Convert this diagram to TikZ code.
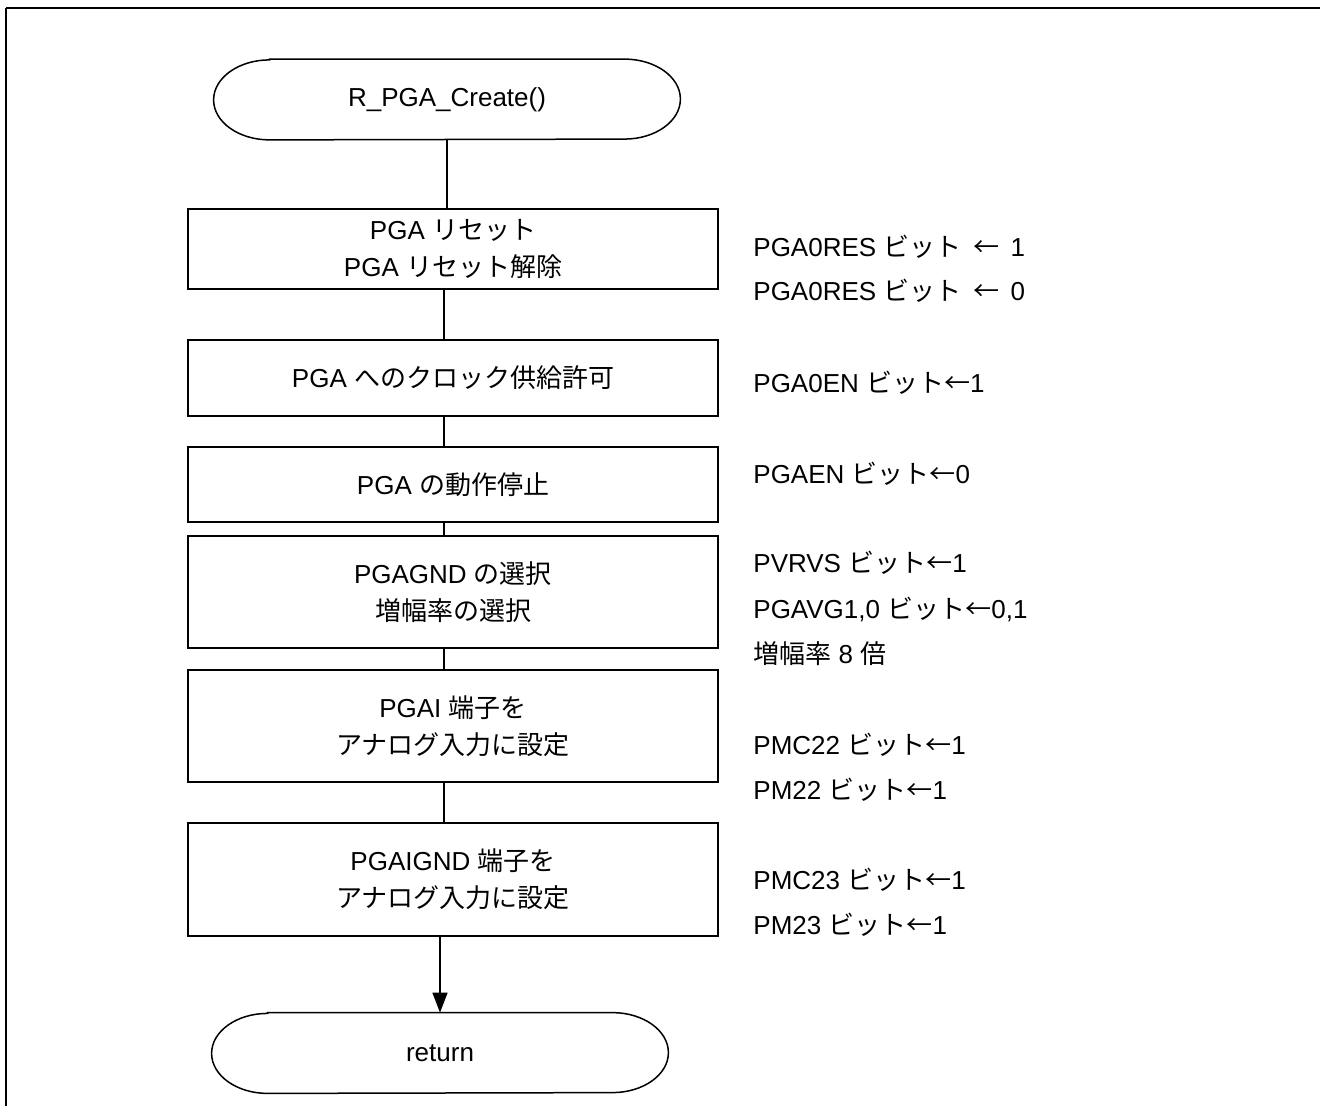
\documentclass[tikz,border=0pt]{standalone}
\usepackage{fontspec}
\setmainfont{Liberation Sans}
\newfontfamily\jp{Noto Sans CJK JP}
\usepackage{tikz}
\usetikzlibrary{arrows.meta}
\tikzset{>={Triangle[length=10pt, width=7.5pt]}}
\tikzset{
  flowbox/.style={draw, line width=0.75pt, minimum width=265pt, inner sep=0pt, align=center},
  termnode/.style={inner sep=0pt, minimum width=#1, minimum height=40pt},
  bitlabel/.style={anchor=west, inner sep=0pt},
  flowline/.style={line width=0.75pt}
}
\newcommand{\termoutline}[1]{%
  \draw[flowline] ([xshift=28pt]#1.north west) -- ([xshift=-28pt]#1.north east)
    arc[start angle=90, end angle=-90, x radius=28pt, y radius=20pt]
    -- ([xshift=28pt]#1.south west)
    arc[start angle=270, end angle=90, x radius=28pt, y radius=20pt] -- cycle;}
\begin{document}
\begin{tikzpicture}[x=0.5pt, y=-0.5pt, font=\fontsize{13pt}{18.5pt}\selectfont]
        \useasboundingbox (0, 0) rectangle (1320, 1106);
        \draw[line width=1pt] (6, 8) -- (1320, 8);
        \draw[line width=0.75pt] (6, 8) -- (6, 1106);
        \coordinate (axis) at (444, 0);
        \node[termnode=233pt] (start) at (447, 99.5) {R\_PGA\_Create()};
        \termoutline{start}
        \node[flowbox, minimum height=40pt] (reset) at (453, 249) {PGA {\jp リセット}\\PGA {\jp リセット解除}};
        \node[flowbox, minimum height=38pt] (clock) at (453, 378) {PGA {\jp へのクロック供給許可}};
        \node[flowbox, minimum height=37.5pt] (stop) at (453, 484.5) {PGA {\jp の動作停止}};
        \node[flowbox, minimum height=56pt] (gain) at (453, 592) {PGAGND {\jp の選択}\\{\jp 増幅率の選択}};
        \node[flowbox, minimum height=56pt] (pgai) at (453, 726) {PGAI {\jp 端子を}\\{\jp アナログ入力に設定}};
        \node[flowbox, minimum height=56.5pt] (pgaignd) at (453, 879.5) {PGAIGND {\jp 端子を}\\{\jp アナログ入力に設定}};
        \node[termnode=228pt] (ret) at (440, 1053) {return};
        \termoutline{ret}
        \draw[flowline] (start.south) -- (start.south |- reset.north);
        \draw[flowline] (reset.south -| axis) -- (clock.north -| axis);
        \draw[flowline] (clock.south -| axis) -- (stop.north -| axis);
        \draw[flowline] (stop.south -| axis) -- (gain.north -| axis);
        \draw[flowline] (gain.south -| axis) -- (pgai.north -| axis);
        \draw[flowline] (pgai.south -| axis) -- (pgaignd.north -| axis);
        \draw[flowline, ->] (pgaignd.south -| ret) -- (ret.north);
        \node[bitlabel] (resetbita) at (753, 247) {PGA0RES {\jp ビット} \,{\jp ←} \,1};
        \node[bitlabel] (resetbitb) at (753, 291) {PGA0RES {\jp ビット} \,{\jp ←} \,0};
        \node[bitlabel] (clockbit) at (753, 383) {PGA0EN {\jp ビット←}1};
        \node[bitlabel] (stopbit) at (753, 474) {PGAEN {\jp ビット←}0};
        \node[bitlabel] (gainbita) at (753, 563) {PVRVS {\jp ビット←}1};
        \node[bitlabel] (gainbitb) at (753, 609) {PGAVG1,0 {\jp ビット←}0,1};
        \node[bitlabel] (gainbitc) at (753, 654) {{\jp 増幅率} 8 {\jp 倍}};
        \node[bitlabel] (pgaibita) at (753, 745) {PMC22 {\jp ビット←}1};
        \node[bitlabel] (pgaibitb) at (753, 790) {PM22 {\jp ビット←}1};
        \node[bitlabel] (pgaigndbita) at (753, 880) {PMC23 {\jp ビット←}1};
        \node[bitlabel] (pgaigndbitb) at (753, 925) {PM23 {\jp ビット←}1};
    \end{tikzpicture}
\end{document}
